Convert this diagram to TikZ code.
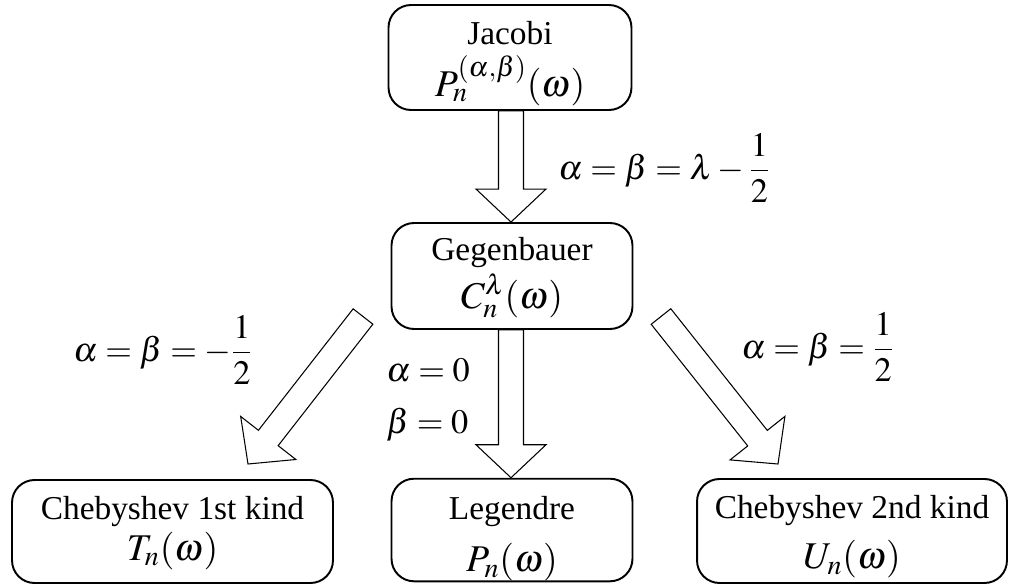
\documentclass[tikz,border=0pt]{standalone}
\usepackage{amsmath}
\usepackage{mathptmx}
\usepackage[no-math]{fontspec}
\setmainfont{Liberation Serif}
\usetikzlibrary{calc}

\newcommand{\eqfont}{\fontsize{21.5}{24}\selectfont}

\tikzset{
  family/.style={draw, line width=1.1pt, rounded corners=0.45cm, align=center,
    inner sep=0pt, font=\fontsize{19}{23}\selectfont},
  fat/.style={draw, line width=0.6pt, line join=miter, to path={
    ($(\tikztotarget)!0.66cm!(\tikztostart)$) coordinate (fat-h)
    ($(\tikztostart)!0.25cm!90:(\tikztotarget)$)
    -- ($(fat-h)!0.25cm!90:(\tikztotarget)$)
    -- ($(fat-h)!0.7cm!90:(\tikztotarget)$)
    -- (\tikztotarget)
    -- ($(fat-h)!0.7cm!-90:(\tikztotarget)$)
    -- ($(fat-h)!0.25cm!-90:(\tikztotarget)$)
    -- ($(\tikztostart)!0.25cm!-90:(\tikztotarget)$) -- cycle}},
  cond/.style={anchor=west, inner sep=0pt, font=\fontsize{19.5}{22}\selectfont},
}

\begin{document}
\begin{tikzpicture}[x=0.02cm, y=-0.02cm]
    \useasboundingbox (0,0) rectangle (1009,585);

    % Families
    \node[family, minimum width=4.86cm, minimum height=2.1cm] (jac) at (510,57.5)
        {\rule{0pt}{20pt}Jacobi\\[5.5pt] {\eqfont $P_n^{(\alpha,\beta)}(\omega)$}};
    \node[family, minimum width=4.82cm, minimum height=2.12cm] (geg) at (512,276)
        {\rule{0pt}{15pt}Gegenbauer\\[2.5pt] {\eqfont $C_n^{\lambda}(\omega)$}};
    \node[family, minimum width=6.42cm, minimum height=2.06cm] (cheb1) at (172.5,531.5)
        {\rule{0pt}{15pt}Chebyshev 1st kind\\ {\eqfont $T_n(\omega)$}};
    \node[family, minimum width=4.82cm, minimum height=2.04cm] (leg) at (512,530)
        {\rule{0pt}{23pt}Legendre\\[7pt] {\eqfont $P_n(\omega)$}};
    \node[family, minimum width=6.2cm, minimum height=2.08cm] (cheb2) at (852,531)
        {\rule{0pt}{20pt}Chebyshev 2nd kind\\[5.5pt] {\eqfont $U_n(\omega)$}};

    % Free ends of the slanted arrows
    \coordinate (t1) at (363,316.5);
    \coordinate (h1) at (248,464);
    \coordinate (t2) at (661,316.5);
    \coordinate (h2) at (778,464);

    % Arrows
    \draw[fat] (jac.south -| 511,0) to (geg.north -| 511,0);
    \draw[fat] (geg.south -| 511,0) to (leg.north -| 511,0);
    \draw[fat] (t1) to (h1);
    \draw[fat] (t2) to (h2);

    % Conditions
    \node[cond] (c1) at (558,168) {$\alpha=\beta=\lambda-\dfrac{1}{2}$};
    \node[cond] (c2) at (73,350) {$\alpha=\beta=-\dfrac{1}{2}$};
    \node[cond] (c3) at (741,347) {$\alpha=\beta=\dfrac{1}{2}$};
    \node[cond] (c4) at (386,370) {$\alpha=0$};
    \node[cond] (c5) at (386,425) {$\beta=0$};
\end{tikzpicture}
\end{document}
